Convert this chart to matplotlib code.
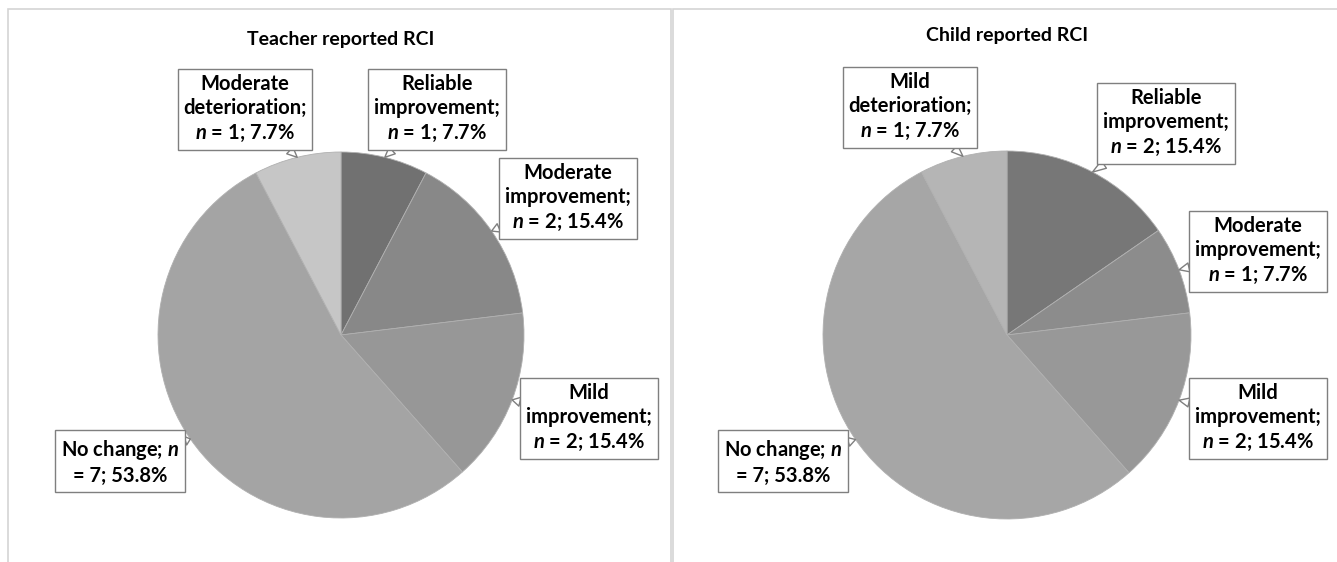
import matplotlib
matplotlib.use('Agg')
import matplotlib.pyplot as plt
from matplotlib.patches import Rectangle
import numpy as np

# Data (n out of 13 children)
teacher_names = ['Reliable\nimprovement;', 'Moderate\nimprovement;', 'Mild\nimprovement;',
                 'No change;', 'Moderate\ndeterioration;']
teacher_n = [1, 2, 2, 7, 1]
child_names = ['Reliable\nimprovement;', 'Moderate\nimprovement;', 'Mild\nimprovement;',
               'No change;', 'Mild\ndeterioration;']
child_n = [2, 1, 2, 7, 1]

teacher_colors = ['#717171', '#888888', '#979797', '#a4a4a4', '#c6c6c6']
child_colors = ['#777777', '#8c8c8c', '#989898', '#a6a6a6', '#b5b5b5']

W, H = 1337, 562
plt.rcParams['font.family'] = ['Lato', 'DejaVu Sans']
plt.rcParams['mathtext.fontset'] = 'custom'
plt.rcParams['mathtext.it'] = 'Lato:italic:bold'

fig = plt.figure(figsize=(W / 100, H / 100), dpi=100)
fig.patch.set_facecolor('white')

# panel frames
for x0, x1 in [(8, 671), (673, 1345)]:
    fig.patches.append(Rectangle((x0 / W, -0.1), (x1 - x0) / W, (H - 9) / H + 0.1,
                                 transform=fig.transFigure, fill=False,
                                 edgecolor='#d4d4d4', lw=1.2))


def make_label(name, n, total):
    pct = n / total * 100
    if '\n' in name:
        return f"{name}\n$n$ = {n}; {pct:.1f}%"
    return f"{name} $n$\n= {n}; {pct:.1f}%"


def draw_pie(cx, cy, r, names, counts, colors, title, title_y, box_pos):
    ax = fig.add_axes([(cx - r) / W, (H - cy - r) / H, 2 * r / W, 2 * r / H])
    wedges, _ = ax.pie(counts, colors=colors, startangle=90, counterclock=False,
                       wedgeprops=dict(linewidth=0.6, edgecolor='#b0b0b0'))
    ax.set_xlim(-1, 1)
    ax.set_ylim(-1, 1)
    ax.set_aspect('equal')
    ax.axis('off')
    total = sum(counts)
    for w, name, n, (bx, by) in zip(wedges, names, counts, box_pos):
        mid = np.deg2rad((w.theta1 + w.theta2) / 2)
        ax.annotate(make_label(name, n, total),
                    xy=(np.cos(mid), np.sin(mid)), xycoords='data',
                    xytext=(bx, H - by), textcoords='figure pixels',
                    ha='center', va='center', multialignment='center',
                    fontsize=14.5, fontweight='bold',
                    linespacing=1.3, annotation_clip=False,
                    bbox=dict(boxstyle='square,pad=0.28', fc='white', ec='#7f7f7f', lw=1),
                    arrowprops=dict(arrowstyle='wedge,tail_width=0.45', fc='white',
                                    ec='#7f7f7f', lw=1, shrinkA=0, shrinkB=0))
    fig.text(cx / W, 1 - title_y / H, title, ha='center', va='center',
             fontsize=14, fontweight='bold')


draw_pie(341, 335, 183, teacher_names, teacher_n, teacher_colors,
         'Teacher reported RCI', 39,
         [(437, 109), (568, 198), (589, 418), (120, 462), (245, 109)])
draw_pie(1007, 335, 184, child_names, child_n, child_colors,
         'Child reported RCI', 36,
         [(1166, 123), (1258, 251), (1258, 418), (783, 462), (910, 107)])

fig.savefig('out.png', dpi=100)
